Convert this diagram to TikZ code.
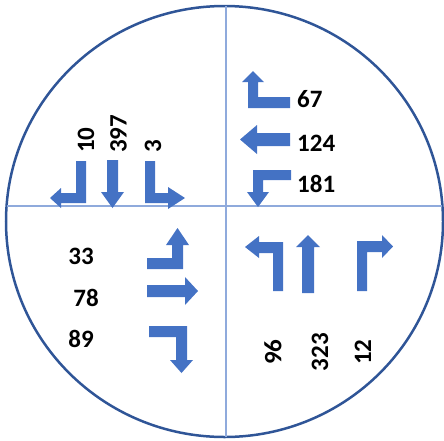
\documentclass[tikz,border=0pt]{standalone}
\usepackage{fontspec}
\setmainfont{Carlito}
\usepackage{tikz}
\usepackage{xcolor}
\definecolor{ringBlue}{HTML}{2F5597}
\definecolor{axisBlue}{HTML}{8FAADC}
\definecolor{laneBlue}{HTML}{4472C4}

\begin{document}
\begin{tikzpicture}[x=1pt, y=-1pt,
    lane/.style={fill=laneBlue, draw=none},
    count/.style={inner sep=0pt, font=\fontsize{25}{28}\selectfont\bfseries},
    vcount/.style={count, rotate=90}]
  \useasboundingbox (0,0) rectangle (444,440);
  % ring and axes
  \draw[ringBlue, line width=2.5pt] (224.5,221.5) ellipse [x radius=218.5, y radius=215.5];
  \coordinate (N) at (226,6);
  \coordinate (S) at (226,437);
  \coordinate (W) at (6.6,206);
  \coordinate (E) at (442.4,206);
  \draw[axisBlue, line width=1.2pt] (N) -- (S);
  \draw[axisBlue, line width=1.2pt] (W) -- (E);
  % upper left: southbound
  \fill[lane] (86,161) -- (86,203) -- (61,203) -- (61,208) -- (50,198) -- (61,188) -- (61,193) -- (76,193) -- (76,161) -- cycle;
  \fill[lane] (107,160) -- (118,160) -- (118,192) -- (124,192) -- (112.5,208) -- (101,192) -- (107,192) -- cycle;
  \fill[lane] (145,161) -- (155,161) -- (155,193) -- (168,193) -- (168,187) -- (185,198) -- (168,209) -- (168,203) -- (145,203) -- cycle;
  \node[vcount, anchor=west] (sL) at (86,153) {10};
  \node[vcount, anchor=west] (sT) at (118.5,153) {397};
  \node[vcount, anchor=west] (sR) at (153,153) {3};
  % upper right: westbound
  \fill[lane] (290,97) -- (290,108) -- (248,108) -- (248,82) -- (242,82) -- (253,71) -- (264,82) -- (258,82) -- (258,97) -- cycle;
  \fill[lane] (290,133) -- (290,146) -- (257,146) -- (257,154) -- (240,139.5) -- (257,125) -- (257,133) -- cycle;
  \fill[lane] (291,170) -- (291,180) -- (263,180) -- (263,192) -- (269,192) -- (258,207) -- (247,192) -- (253,192) -- (253,170) -- cycle;
  \node[count, anchor=west] (wR) at (297,99) {67};
  \node[count, anchor=west] (wT) at (297,143) {124};
  \node[count, anchor=west] (wL) at (297,183.5) {181};
  % lower left: eastbound
  \fill[lane] (147,258) -- (172,258) -- (172,245) -- (166,245) -- (177.5,228) -- (189,245) -- (183,245) -- (183,269) -- (147,269) -- cycle;
  \fill[lane] (147,285) -- (185,285) -- (185,277) -- (198,291) -- (185,305) -- (185,297) -- (147,297) -- cycle;
  \fill[lane] (149,326) -- (187,326) -- (187,360) -- (193,360) -- (181.5,373) -- (170,360) -- (176,360) -- (176,337) -- (149,337) -- cycle;
  \node[count] (eL) at (81,256) {33};
  \node[count] (eT) at (86,298) {78};
  \node[count] (eR) at (81,339) {89};
  % lower right: northbound
  \fill[lane] (283,291) -- (273,291) -- (273,253) -- (259,253) -- (259,258) -- (245,247) -- (259,236) -- (259,242) -- (283,242) -- cycle;
  \fill[lane] (302,293) -- (314,293) -- (314,247) -- (320,247) -- (308,235) -- (296,247) -- (302,247) -- cycle;
  \fill[lane] (357,291) -- (357,241) -- (382,241) -- (382,235) -- (393,246.5) -- (382,258) -- (382,252) -- (367,252) -- (367,291) -- cycle;
  \node[vcount] (nL) at (273,352) {96};
  \node[vcount] (nT) at (320,352) {323};
  \node[vcount] (nR) at (363,352) {12};
\end{tikzpicture}
\end{document}
